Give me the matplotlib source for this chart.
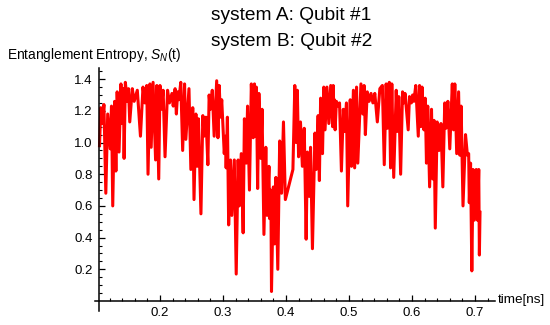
import matplotlib
matplotlib.use("Agg")
import matplotlib.pyplot as plt

# ---- data ----
time_ns = [
    0.104, 0.106, 0.108, 0.111, 0.114, 0.117, 0.121, 0.123, 0.125, 0.128,
    0.130, 0.132, 0.135, 0.138, 0.140, 0.142, 0.143, 0.145, 0.148, 0.150,
    0.152, 0.156, 0.159, 0.164, 0.169, 0.173, 0.176, 0.179, 0.181, 0.184,
    0.186, 0.189, 0.193, 0.195, 0.198, 0.200, 0.202, 0.205, 0.208, 0.212,
    0.215, 0.219, 0.221, 0.224, 0.226,
    0.228, 0.230, 0.233, 0.236, 0.239, 0.241, 0.246, 0.249, 0.252, 0.254,
    0.257, 0.259, 0.261, 0.265, 0.268, 0.270, 0.273, 0.276, 0.278, 0.280,
    0.283, 0.286, 0.290, 0.292, 0.294, 0.296, 0.298, 0.302, 0.304, 0.305,
    0.307, 0.309, 0.312, 0.314, 0.318, 0.321, 0.324, 0.326, 0.329, 0.332,
    0.334, 0.337, 0.339, 0.342, 0.345, 0.348, 0.350,
    0.351, 0.353, 0.355, 0.357, 0.360, 0.362, 0.365, 0.368, 0.370, 0.373,
    0.374, 0.376, 0.377, 0.380, 0.382, 0.384, 0.387, 0.390, 0.393, 0.396,
    0.399, 0.411, 0.414, 0.416, 0.418, 0.420, 0.423, 0.426, 0.429, 0.432,
    0.434, 0.437, 0.439, 0.442, 0.446, 0.448, 0.451, 0.453, 0.455, 0.458,
    0.460, 0.462, 0.465, 0.468, 0.471, 0.474,
    0.475, 0.476, 0.477, 0.478, 0.480, 0.483, 0.485, 0.488, 0.491, 0.493,
    0.496, 0.498, 0.502, 0.504, 0.507, 0.509, 0.512, 0.514, 0.519, 0.522,
    0.524, 0.526, 0.529, 0.532, 0.535, 0.538, 0.541, 0.545, 0.549, 0.553,
    0.556, 0.559, 0.561, 0.564, 0.566, 0.568, 0.571, 0.575, 0.577, 0.579,
    0.582, 0.585, 0.587, 0.589, 0.594, 0.596,
    0.599, 0.601, 0.603, 0.606, 0.610, 0.612, 0.614, 0.616, 0.619, 0.621,
    0.623, 0.625, 0.628, 0.631, 0.633, 0.635, 0.637, 0.640, 0.643, 0.646,
    0.649, 0.652, 0.654, 0.657, 0.660, 0.664, 0.666, 0.668, 0.671, 0.674,
    0.676, 0.678, 0.681, 0.685, 0.688, 0.690, 0.691, 0.693, 0.695, 0.697,
    0.699, 0.702, 0.704, 0.706, 0.707, 0.708,
]
entropy = [
    0.98, 1.22, 1.12, 1.24, 0.68, 1.18, 0.96, 1.23, 0.60, 1.26,
    0.82, 1.32, 0.94, 1.37, 1.12, 1.34, 0.90, 1.38, 1.26, 1.34,
    1.13, 1.34, 1.26, 1.33, 1.04, 1.35, 1.25, 1.36, 0.80, 1.37,
    0.97, 1.38, 0.89, 1.36, 0.77, 1.36, 1.21, 1.33, 0.91, 1.33,
    1.25, 1.31, 1.23, 1.34, 1.18,
    1.32, 1.27, 1.38, 0.95, 1.37, 1.02, 1.34, 0.83, 1.22, 0.64,
    1.18, 0.85, 1.15, 0.55, 1.17, 1.04, 1.16, 0.86, 1.30, 1.21,
    1.33, 1.04, 1.39, 1.03, 1.36, 1.16, 1.27, 0.93, 1.04, 0.84,
    1.16, 0.48, 0.89, 0.54, 0.89, 0.17, 0.89, 0.60, 0.93, 0.43,
    1.15, 0.87, 1.23, 0.70, 1.37, 1.03, 1.37,
    1.04, 1.35, 0.71, 1.31, 0.90, 1.21, 0.42, 0.97, 0.54, 0.85,
    0.52, 0.70, 0.06, 0.72, 0.36, 0.78, 0.20, 1.01, 0.68, 1.13,
    0.64, 0.83, 1.36, 1.00, 1.33, 0.91, 1.13, 0.85, 1.09, 0.39,
    0.94, 0.66, 0.97, 0.33, 1.06, 0.83, 1.17, 0.76, 1.28, 0.93,
    1.35, 1.08, 1.35, 1.12, 1.36, 1.10,
    1.36, 1.18, 1.27, 1.08, 1.26, 1.23, 1.25, 0.82, 1.21, 1.07,
    1.25, 0.60, 1.27, 0.85, 1.33, 0.84, 1.35, 0.87, 1.37, 1.18,
    1.36, 1.05, 1.32, 1.26, 1.31, 1.25, 1.31, 1.13, 1.34, 1.36,
    0.86, 1.37, 1.09, 1.38, 0.84, 1.37, 0.78, 1.33, 1.07, 1.29,
    0.80, 1.32, 1.25, 1.31, 1.08, 1.29,
    1.25, 1.30, 1.26, 1.36, 1.04, 1.36, 1.10, 1.35, 1.08, 1.28,
    0.87, 1.23, 0.72, 1.21, 0.77, 1.14, 0.46, 1.13, 0.95, 1.12,
    0.72, 1.25, 1.09, 1.26, 0.96, 1.37, 1.08, 1.37, 0.93, 1.32,
    0.92, 1.23, 0.60, 1.05, 0.92, 0.93, 0.62, 0.87, 0.19, 0.83,
    0.51, 0.83, 0.51, 0.83, 0.29, 0.56,
]

x_major = [0.2, 0.3, 0.4, 0.5, 0.6, 0.7]
x_major_labels = ["0.2", "0.3", "0.4", "0.5", "0.6", "0.7"]
y_major = [0.2, 0.4, 0.6, 0.8, 1.0, 1.2, 1.4]
y_major_labels = ["0.2", "0.4", "0.6", "0.8", "1.0", "1.2", "1.4"]
x_minor = [0.12, 0.14, 0.16, 0.18, 0.22, 0.24, 0.26, 0.28, 0.32, 0.34,
           0.36, 0.38, 0.42, 0.44, 0.46, 0.48, 0.52, 0.54, 0.56, 0.58,
           0.62, 0.64, 0.66, 0.68, 0.72]
y_minor = [0.05, 0.10, 0.15, 0.25, 0.30, 0.35, 0.45, 0.50, 0.55, 0.65,
           0.70, 0.75, 0.85, 0.90, 0.95, 1.05, 1.10, 1.15, 1.25, 1.30,
           1.35, 1.45]

title_lines = ["system A: Qubit #1", "system B: Qubit #2"]
y_label = "Entanglement Entropy, $S_N$(t)"
x_label = "time[ns]"

# ---- style ----
plt.rcParams["font.family"] = ["Liberation Sans", "DejaVu Sans"]
plt.rcParams["mathtext.fontset"] = "custom"
plt.rcParams["mathtext.it"] = "Liberation Sans:italic"
plt.rcParams["mathtext.rm"] = "Liberation Sans"

fig = plt.figure(figsize=(5.5, 3.25), dpi=100)
ax = fig.add_axes([0.1649, 0.0446, 0.7445, 0.7606])

ax.plot(time_ns, entropy, color="#ff0000", lw=2.2, solid_joinstyle="round")

ax.set_xlim(0.09, 0.74)
ax.set_ylim(-0.06, 1.5)

for s in ["top", "right"]:
    ax.spines[s].set_visible(False)
ax.spines["left"].set_position(("data", 0.1033))
ax.spines["bottom"].set_position(("data", 0.0))
ax.spines["left"].set_bounds(-0.06, 1.47)
ax.spines["bottom"].set_bounds(0.097, 0.732)
for s in ["left", "bottom"]:
    ax.spines[s].set_linewidth(1.1)

ax.set_xticks(x_major)
ax.set_xticklabels(x_major_labels)
ax.set_xticks(x_minor, minor=True)
ax.set_yticks(y_major)
ax.set_yticklabels(y_major_labels)
ax.set_yticks(y_minor, minor=True)

ax.tick_params(which="major", direction="in", length=4.5, width=0.9,
               labelsize=9.5, colors="black")
ax.tick_params(which="minor", direction="in", length=2.5, width=0.8)
ax.tick_params(axis="x", which="major", pad=4)
ax.tick_params(axis="y", which="major", pad=4.5)

fig.text(7 / 550, 1 - 55 / 325, y_label, fontsize=9.9, ha="left", va="center")
fig.text(211 / 550, 1 - 16 / 325, title_lines[0], fontsize=13.8, ha="left", va="center")
fig.text(211 / 550, 1 - 41 / 325, title_lines[1], fontsize=13.8, ha="left", va="center")
fig.text(498 / 550, 1 - 300 / 325, x_label, fontsize=9.7, ha="left", va="center")

fig.savefig("out.png", dpi=100)
